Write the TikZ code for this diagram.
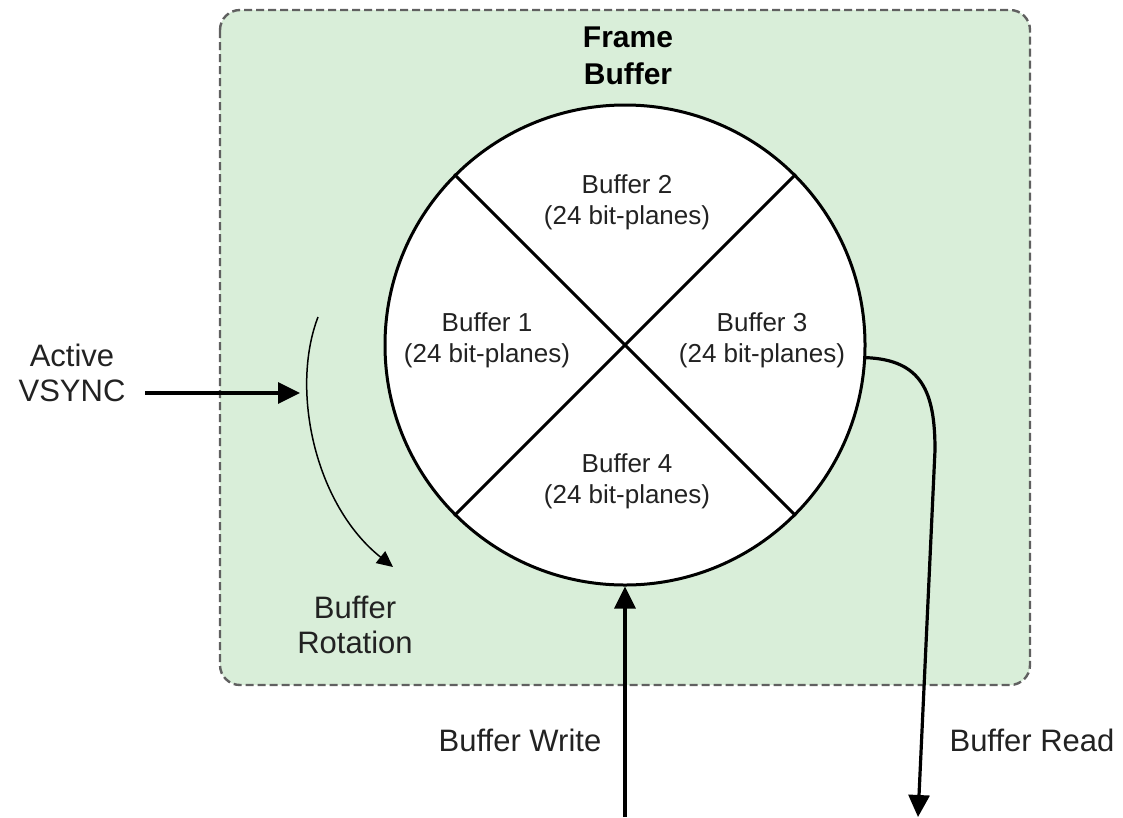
\documentclass[tikz,border=0pt]{standalone}
\usepackage{fontspec}
\setmainfont{Liberation Sans}
\usetikzlibrary{arrows.meta,positioning}

\definecolor{framegreen}{HTML}{D9EED9}
\definecolor{framegray}{HTML}{606060}
\definecolor{txtgray}{HTML}{222222}

\begin{document}
\begin{tikzpicture}[x=1pt, y=-1pt,
        framebox/.style={fill=framegreen, draw=framegray, line width=2.4pt,
            dash pattern=on 8pt off 4pt, rounded corners=20pt},
        ring/.style={circle, draw, fill=white, line width=3pt, minimum size=480pt, inner sep=0pt},
        inlabel/.style={align=center, text=txtgray, font=\fontsize{26}{31}\selectfont},
        outlabel/.style={align=center, text=txtgray, font=\fontsize{31}{35}\selectfont},
        bigarrow/.style={line width=3.2pt, -{Triangle[length=22pt, width=21pt]}},
        rotarrow/.style={line width=1.5pt, -{Triangle[length=16pt, width=15pt]}}
    ]

    \useasboundingbox (0,0) rectangle (1123,817);

    % Frame Buffer region
    \draw[framebox] (220,10) rectangle (1030,685);
    \node[outlabel, font=\fontsize{30}{37}\selectfont\bfseries, text=black] (title) at (628,56) {Frame\\Buffer};

    % the ring of four buffers
    \node[ring] (fb) at (625,345) {};
    \draw[line width=3pt] (fb.135) -- (fb.-45);
    \draw[line width=3pt] (fb.45) -- (fb.-135);

    \node[inlabel] (b1) at (487,340) {Buffer 1\\(24 bit-planes)};
    \node[inlabel] (b2) at (627,202) {Buffer 2\\(24 bit-planes)};
    \node[inlabel] (b3) at (762,340) {Buffer 3\\(24 bit-planes)};
    \node[inlabel] (b4) at (627,481) {Buffer 4\\(24 bit-planes)};

    % VSYNC and rotation
    \node[outlabel] (vsync) at (72,373) {Active\\VSYNC};
    \coordinate (vsA) at (145,393);
    \coordinate (vsB) at (300,393);
    \draw[bigarrow] (vsA) -- (vsB);

    \coordinate (rotA) at (318,317);
    \coordinate (rotB) at (393,567);
    \draw[rotarrow] (rotA) .. controls (290,390) and (315,505) .. (rotB);
    \node[outlabel] (rot) at (355,625) {Buffer\\Rotation};

    % write and read
    \coordinate (wr) at (625,817);
    \draw[bigarrow] (wr) -- (fb.south);
    \node[outlabel] (write) at (520,740) {Buffer Write};

    \coordinate (rd) at (918,817);
    \draw[bigarrow] (fb.-3) .. controls (922,360) and (935,392) .. (935,450) -- (rd);
    \node[outlabel] (read) at (1032,740) {Buffer Read};

\end{tikzpicture}
\end{document}
